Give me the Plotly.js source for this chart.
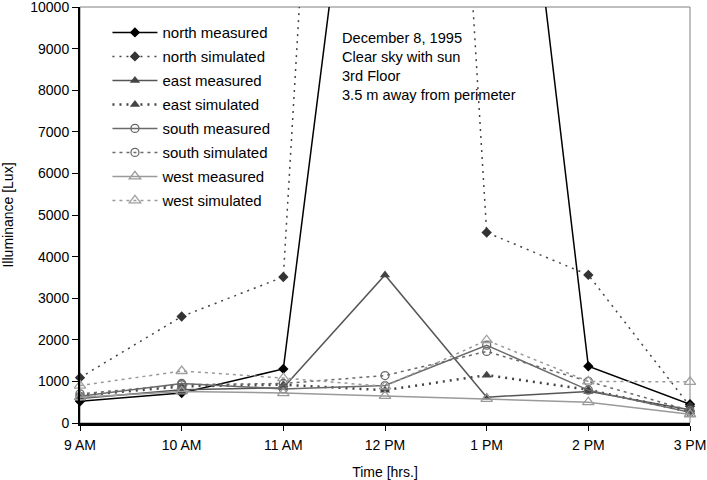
<!DOCTYPE html>
<html>
<head>
<meta charset="utf-8">
<script src="https://cdn.plot.ly/plotly-3.0.1.min.js"></script>
<style>
  html, body { margin: 0; padding: 0; background: #fff; }
  #chart { width: 707px; height: 480px; }
</style>
</head>
<body>
<div id="chart"></div>
<script>
// Data (Illuminance in Lux)
const times = ['9 AM', '10 AM', '11 AM', '12 PM', '1 PM', '2 PM', '3 PM'];
const northMeasured  = [520, 720, 1300, 20600, 22000, 1365, 450];
const northSimulated = [1090, 2560, 3510, 44800, 4580, 3560, 400];
const eastMeasured   = [590, 800, 850, 3560, 620, 760, 320];
const eastSimulated  = [660, 880, 920, 790, 1150, 800, 270];
const southMeasured  = [640, 950, 820, 900, 1870, 790, 260];
const southSimulated = [700, 920, 950, 1140, 1720, 1000, 300];
const westMeasured   = [620, 760, 720, 650, 580, 500, 210];
const westSimulated  = [900, 1250, 1080, 880, 1990, 1000, 990];

const seriesNames = ['north measured', 'north simulated', 'east measured', 'east simulated',
                     'south measured', 'south simulated', 'west measured', 'west simulated'];
const seriesValues = [northMeasured, northSimulated, eastMeasured, eastSimulated,
                      southMeasured, southSimulated, westMeasured, westSimulated];

const styles = [
  {line: {color: '#000000', width: 1.5, dash: 'solid'}, marker: {symbol: 'diamond', size: 8, color: '#000000'}},
  {line: {color: '#444444', width: 1.5, dash: '2px,5px'}, marker: {symbol: 'diamond', size: 8, color: '#333333'}},
  {line: {color: '#555555', width: 1.5, dash: 'solid'}, marker: {symbol: 'triangle-up', size: 9, color: '#444444'}},
  {line: {color: '#444444', width: 2.5, dash: '2px,5px'}, marker: {symbol: 'triangle-up', size: 9, color: '#444444'}},
  {line: {color: '#6a6a6a', width: 1.5, dash: 'solid'}, marker: {symbol: 'circle-open', size: 8, color: '#6a6a6a', line: {width: 1.3}}},
  {line: {color: '#6a6a6a', width: 1.5, dash: '3px,4px'}, marker: {symbol: 'circle-open', size: 8, color: '#6a6a6a', line: {width: 1.3}}},
  {line: {color: '#9a9a9a', width: 1.5, dash: 'solid'}, marker: {symbol: 'triangle-up-open', size: 10, color: '#9a9a9a', line: {width: 1.3}}},
  {line: {color: '#9a9a9a', width: 1.5, dash: '3px,4px'}, marker: {symbol: 'triangle-up-open', size: 10, color: '#a0a0a0', line: {width: 1.3}}}
];

const traces = seriesNames.map((name, i) => ({
  type: 'scatter',
  mode: 'lines+markers',
  name: name,
  x: times,
  y: seriesValues[i],
  line: styles[i].line,
  marker: styles[i].marker,
  cliponaxis: false,
  legendgroup: 'g' + i
}));

const font = {family: 'Liberation Sans, Arial, sans-serif', size: 15, color: '#000'};

const layout = {
  width: 707,
  height: 480,
  margin: {l: 80, r: 17, t: 7, b: 57},
  paper_bgcolor: '#ffffff',
  plot_bgcolor: '#ffffff',
  font: font,
  showlegend: true,
  legend: {
    x: 0.045, y: 0.978, xanchor: 'left', yanchor: 'top',
    bgcolor: 'rgba(0,0,0,0)', borderwidth: 0,
    font: {family: font.family, size: 15, color: '#000'},
    traceorder: 'grouped',
    tracegroupgap: 1.5,
    itemwidth: 45
  },
  xaxis: {
    type: 'category',
    range: [0, 6],
    showgrid: false,
    zeroline: false,
    showline: true,
    linecolor: '#000',
    linewidth: 2.5,
    ticks: 'outside',
    ticklen: 5,
    tickcolor: '#000',
    tickwidth: 1,
    ticklabelstandoff: 3,
    tickfont: {family: font.family, size: 14, color: '#000'},
    title: {text: 'Time [hrs.]', font: {family: font.family, size: 14, color: '#000'}, standoff: 15}
  },
  yaxis: {
    range: [0, 10000],
    dtick: 1000,
    tickformat: 'd',
    showgrid: false,
    zeroline: false,
    showline: true,
    linecolor: '#000',
    linewidth: 2,
    ticks: 'outside',
    ticklen: 6,
    tickcolor: '#000',
    tickwidth: 1,
    ticklabeloverflow: 'allow',
    tickfont: {family: font.family, size: 14, color: '#000'},
    title: {text: 'Illuminance [Lux]', font: {family: font.family, size: 14, color: '#000'}, standoff: 16}
  },
  shapes: [
    {type: 'rect', xref: 'paper', yref: 'paper', x0: 0, x1: 1, y0: 0, y1: 1,
     line: {color: '#808080', width: 1}, layer: 'below'}
  ],
  annotations: [
    {xref: 'paper', yref: 'paper', x: 0.427, y: 0.95, xanchor: 'left', yanchor: 'top',
     align: 'left', showarrow: false,
     text: 'December 8, 1995<br>Clear sky with sun<br>3rd Floor<br>3.5 m away from perimeter',
     font: {family: font.family, size: 14.6, color: '#000'}}
  ]
};

Plotly.newPlot('chart', traces, layout, {displayModeBar: false, staticPlot: true});
</script>
</body>
</html>
